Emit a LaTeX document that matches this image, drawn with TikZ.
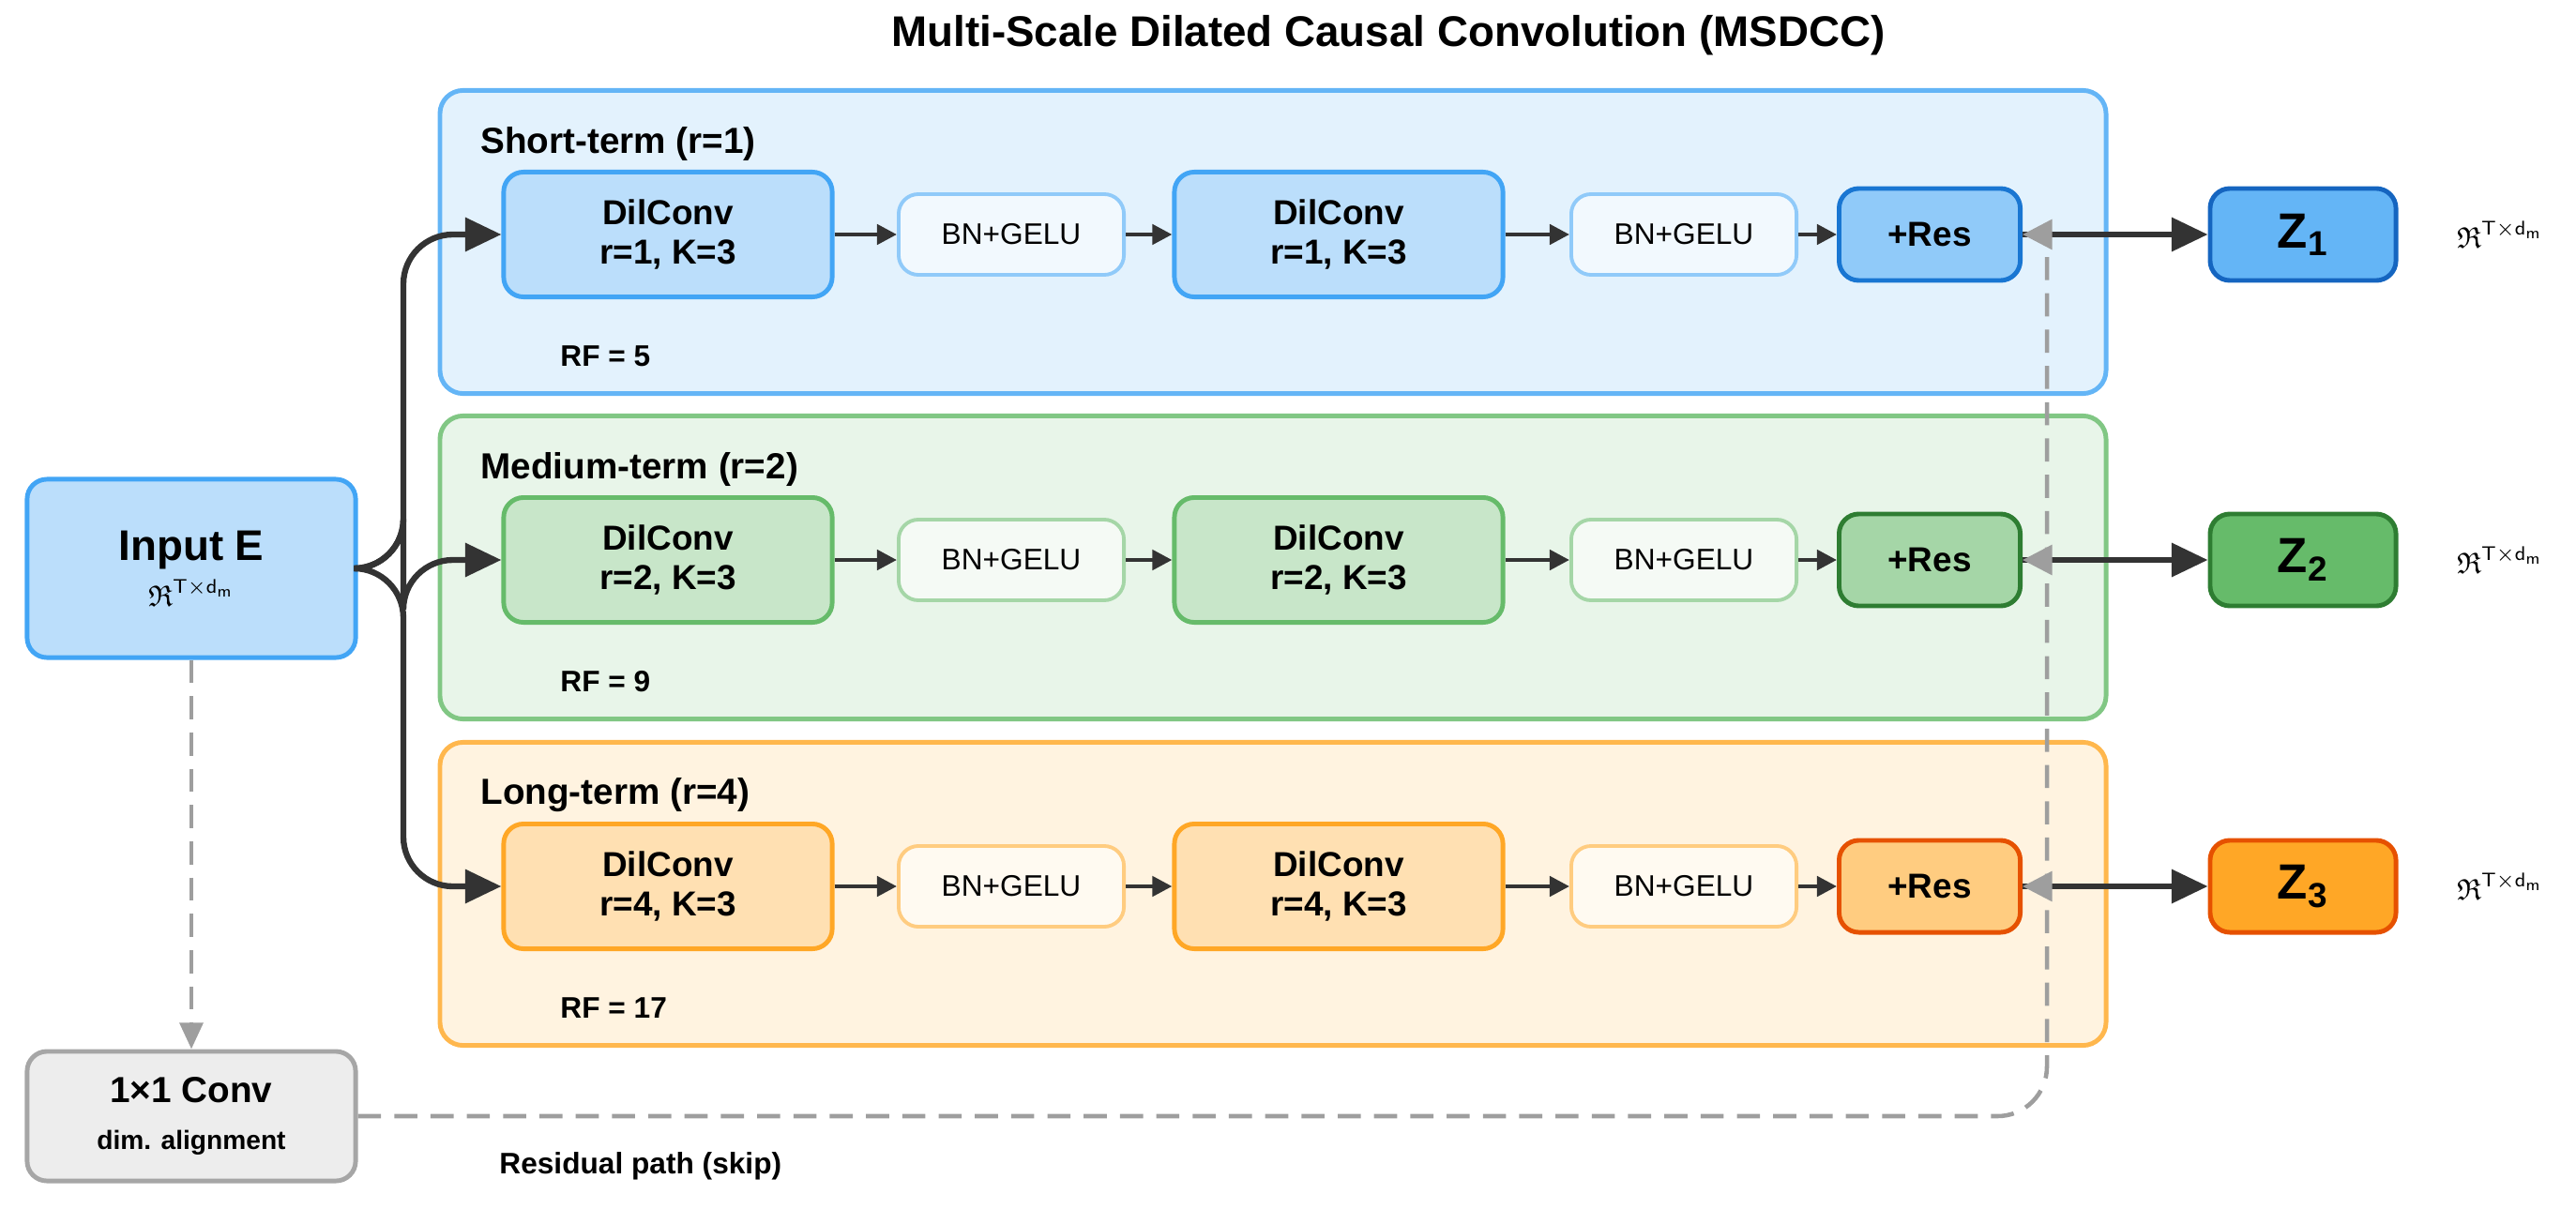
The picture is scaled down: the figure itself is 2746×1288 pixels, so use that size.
\documentclass[tikz,border=0pt]{standalone}
\usepackage{fontspec}
\usepackage{amssymb}
\setmainfont{Liberation Sans}
\usetikzlibrary{arrows.meta}
%% colours per branch: b = short, g = medium, o = long
\definecolor{panelb}{HTML}{E3F2FD}\definecolor{panellineb}{HTML}{64B5F6}
\definecolor{convb}{HTML}{BBDEFB}\definecolor{convlineb}{HTML}{42A5F5}
\definecolor{bnlineb}{HTML}{90CAF9}\definecolor{resb}{HTML}{90CAF9}
\definecolor{reslineb}{HTML}{1976D2}\definecolor{zb}{HTML}{64B5F6}\definecolor{zlineb}{HTML}{1565C0}
\definecolor{panelg}{HTML}{E8F5E9}\definecolor{panellineg}{HTML}{81C784}
\definecolor{convg}{HTML}{C8E6C9}\definecolor{convlineg}{HTML}{66BB6A}
\definecolor{bnlineg}{HTML}{A5D6A7}\definecolor{resg}{HTML}{A5D6A7}
\definecolor{reslineg}{HTML}{2E7D32}\definecolor{zg}{HTML}{66BB6A}\definecolor{zlineg}{HTML}{2E7D32}
\definecolor{panelo}{HTML}{FFF3E0}\definecolor{panellineo}{HTML}{FFB74D}
\definecolor{convo}{HTML}{FFE0B2}\definecolor{convlineo}{HTML}{FFA726}
\definecolor{bnlineo}{HTML}{FFCC80}\definecolor{reso}{HTML}{FFCC80}
\definecolor{reslineo}{HTML}{E65100}\definecolor{zo}{HTML}{FFA726}\definecolor{zlineo}{HTML}{E65100}
\definecolor{arrowdark}{HTML}{333333}
\definecolor{skipgray}{HTML}{9E9E9E}
\newcommand{\realdim}{$\mathfrak{R}^{\mathsf{T\times d_m}}$}
\begin{document}
\begin{tikzpicture}[x=0.01cm,y=-0.01cm,
  box/.style={draw, rounded corners=6pt, line width=1.4pt, align=center, font=\bfseries},
  panel/.style={draw, rounded corners=7pt, line width=1.4pt, minimum width=17.75cm, minimum height=3.23cm},
  conv/.style={box, minimum width=3.5cm, minimum height=1.33cm, font=\bfseries\fontsize{10.5}{13}\selectfont},
  bnbox/.style={box, line width=1.1pt, minimum width=2.4cm, minimum height=0.86cm, font=\fontsize{9}{11}\selectfont},
  resbox/.style={box, minimum width=1.93cm, minimum height=0.98cm, font=\bfseries\fontsize{10.5}{13}\selectfont},
  zbox/.style={box, minimum width=1.98cm, minimum height=0.98cm, font=\bfseries\fontsize{15}{18}\selectfont},
  small/.style={-{Triangle[length=6pt,width=6pt]}, line width=1.3pt, arrowdark},
  big/.style={-{Triangle[length=11pt,width=10pt]}, line width=1.8pt, arrowdark},
  skip/.style={dashed, dash pattern=on 7pt off 4pt, line width=1.3pt, skipgray}]
\useasboundingbox (0,0) rectangle (2746,1288);

\node[font=\bfseries\fontsize{13}{16}\selectfont] (title) at (1480,38) {Multi-Scale Dilated Causal Convolution (MSDCC)};

%% Input and 1x1 conv
\node[box, fill=convb, draw=convlineb, minimum width=3.5cm, minimum height=1.9cm] (inp) at (204,606)
  {{\fontsize{13}{16}\selectfont Input E}\\[2pt]{\fontsize{9}{11}\selectfont\realdim}};
\node[box, fill=black!7, draw=black!35, minimum width=3.5cm, minimum height=1.38cm] (onebyone) at (204,1190)
  {{\fontsize{11}{14}\selectfont 1×1 Conv}\\[2pt]{\fontsize{8}{10}\selectfont dim. alignment}};
\draw[skip, -{Triangle[length=8pt,width=7pt]}] (inp.south) -- (onebyone.north);

%% Branches
\foreach \i/\r/\rf/\nm/\y/\c in {1/1/5/Short/250/b, 2/2/9/Medium/597/g, 3/4/17/Long/945/o}{
  \node[panel, fill=panel\c, draw=panelline\c] (panel\i) at (1357,\y+8) {};
  \node[anchor=west, font=\bfseries\fontsize{11}{13}\selectfont] (lab\i) at (500,\y-97) {\nm-term (r=\r)};
  \node[anchor=west, font=\bfseries\fontsize{9}{11}\selectfont] (rf\i) at (585,\y+130) {RF = \rf};
  \node[conv, fill=conv\c, draw=convline\c] (conva\i) at (712,\y) {DilConv\\[-1pt]r=\r, K=3};
  \node[bnbox, fill=white!55!panel\c, draw=bnline\c] (bna\i) at (1078,\y) {BN+GELU};
  \node[conv, fill=conv\c, draw=convline\c] (convb\i) at (1427,\y) {DilConv\\[-1pt]r=\r, K=3};
  \node[bnbox, fill=white!55!panel\c, draw=bnline\c] (bnb\i) at (1795,\y) {BN+GELU};
  \node[resbox, fill=res\c, draw=resline\c] (res\i) at (2057,\y) {+Res};
  \node[zbox, fill=z\c, draw=zline\c] (z\i) at (2455,\y) {Z\textsubscript{\i}};
  \node[font=\bfseries\fontsize{9}{11}\selectfont] (dim\i) at (2665,\y) {\realdim};
  \draw[small] (conva\i) -- (bna\i);
  \draw[small] (bna\i) -- (convb\i);
  \draw[small] (convb\i) -- (bnb\i);
  \draw[small] (bnb\i) -- (res\i);
  \draw[big] (res\i) -- (z\i);
  \draw[big, rounded corners=15pt] (inp.east) -- (430,606) |- (conva\i.west);
  \draw[line width=1.3pt, skipgray, -{Triangle[length=9pt,width=9pt]}] (2182,\y) -- (res\i.east);
}

%% Residual path
\draw[skip, rounded corners=15pt] (onebyone.east) -| (2182,270);
\node[anchor=west, font=\bfseries\fontsize{9}{11}\selectfont] (skiplab) at (520,1243) {Residual path (skip)};
\end{tikzpicture}
\end{document}
